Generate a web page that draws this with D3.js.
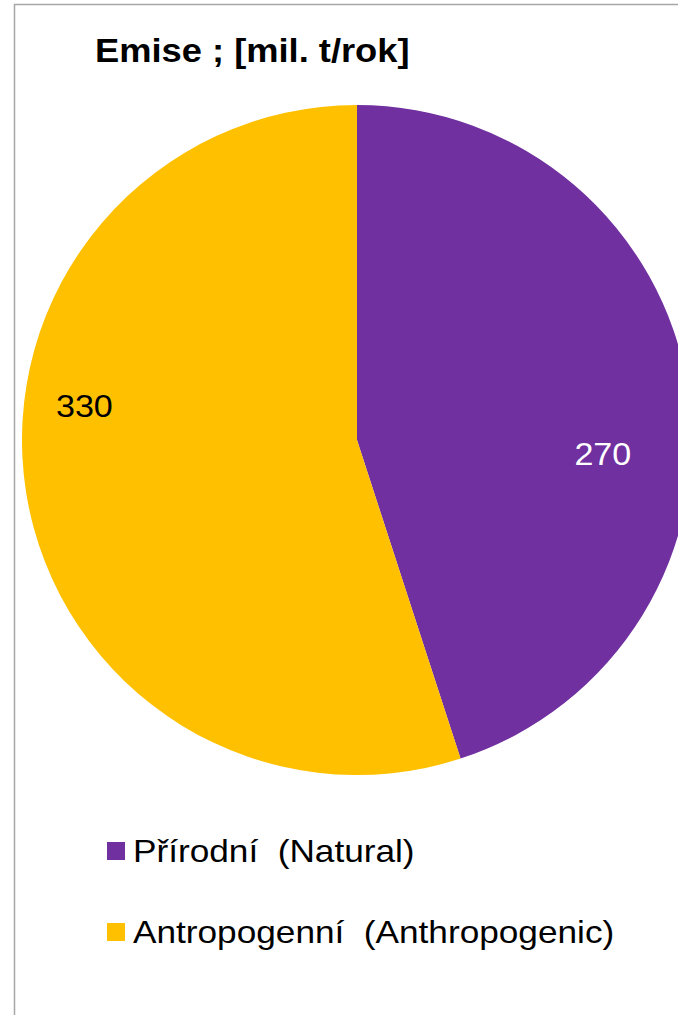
<!DOCTYPE html>
<html>
<head>
<meta charset="utf-8">
<script src="https://cdn.jsdelivr.net/npm/d3@7"></script>
<style>
  html, body { margin: 0; padding: 0; background: #fff; }
  svg { display: block; font-family: "Liberation Sans", Arial, sans-serif; }
</style>
</head>
<body>
<svg id="chart" width="678" height="1015"></svg>
<script>
const categories = ['Přírodní  (Natural)', 'Antropogenní  (Anthropogenic)']
const values = [270, 330]
const colors = ['#7030A0', '#FFC000']
const labelColors = ['#ffffff', '#000000']
const title = 'Emise ; [mil. t/rok]'

const svg = d3.select('#chart')
const W = 678, H = 1015
const sx = 1.1 // the source picture is a bit stretched sideways

// outer chart frame, right edge runs off the picture
svg.append('rect')
  .attr('x', 14.5).attr('y', 4.5)
  .attr('width', W + 20).attr('height', H + 20)
  .attr('fill', '#fff')
  .attr('stroke', '#a6a6a6')
  .attr('stroke-width', 1.5)

svg.append('text')
  .attr('transform', `translate(95,62) scale(${sx},1)`)
  .attr('font-size', 33)
  .attr('font-weight', 'bold')
  .text(title)

const cx = 357, cy = 440, r = 335
const pie = d3.pie().sort(null).value(d => d)
const arcs = pie(values)
const arc = d3.arc().innerRadius(0).outerRadius(r)

const g = svg.append('g').attr('transform', `translate(${cx},${cy})`)

g.selectAll('path')
  .data(arcs)
  .join('path')
  .attr('d', arc)
  .attr('fill', (d, i) => colors[i])

// excel best fit puts labels a bit off the mid angle
const labelShift = [0.215, 0.28]
const labelRad = [0.735, 0.82]
const labelPos = (d, i) => {
  const a = (d.startAngle + d.endAngle) / 2 + labelShift[i]
  return [Math.sin(a) * r * labelRad[i], -Math.cos(a) * r * labelRad[i]]
}
g.selectAll('text.lbl')
  .data(arcs)
  .join('text')
  .attr('class', 'lbl')
  .attr('transform', (d, i) => {
    const p = labelPos(d, i)
    return `translate(${p[0]},${p[1]}) scale(${sx},1)`
  })
  .attr('dy', '0.35em')
  .attr('text-anchor', 'middle')
  .attr('font-size', 31)
  .attr('fill', (d, i) => labelColors[i])
  .text(d => d.data)

const legend = svg.append('g')
const item = legend.selectAll('g')
  .data(categories)
  .join('g')
  .attr('transform', (d, i) => `translate(107,${851 + i * 81})`)

item.append('rect')
  .attr('x', 0).attr('y', -9)
  .attr('width', 18).attr('height', 18)
  .attr('fill', (d, i) => colors[i])

item.append('text')
  .attr('transform', `translate(26,11) scale(${sx},1)`)
  .attr('font-size', 32)
  .style('white-space', 'pre')
  .text(d => d)
</script>
</body>
</html>
